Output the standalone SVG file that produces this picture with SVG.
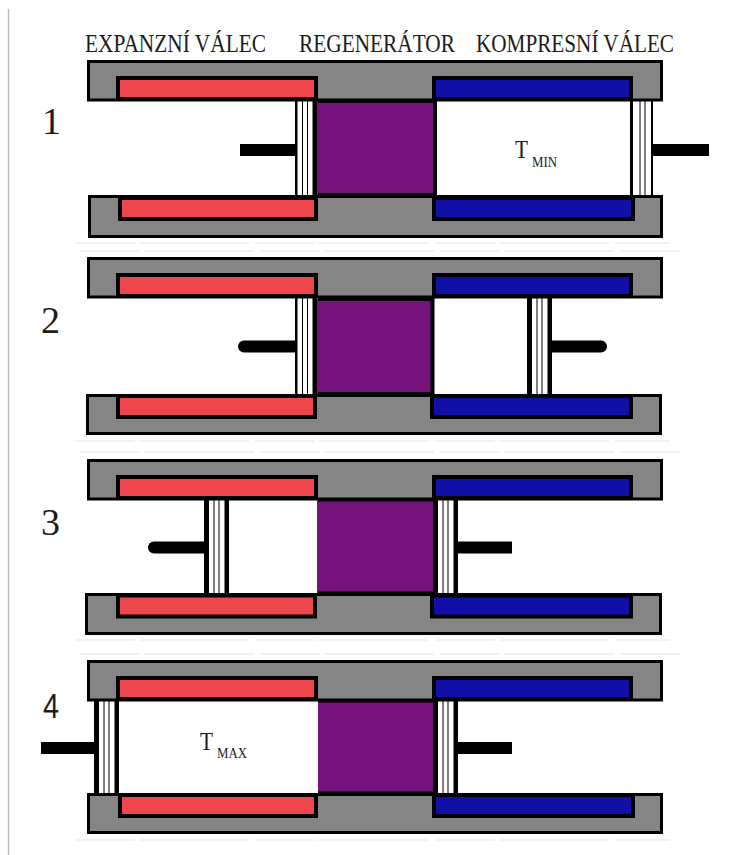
<svg xmlns="http://www.w3.org/2000/svg" width="740" height="855" viewBox="0 0 740 855">
<style>
text{font-family:"Liberation Serif",serif;fill:#1c1c1c}
.h{font-size:25px}
.n{font-size:38px}
.t{font-size:26px}
.s{font-size:15px}
.b{fill:#858585;stroke:#000;stroke-width:3}
.r{fill:#ee464c;stroke:#000;stroke-width:4}
.c{fill:#1010a8;stroke:#000;stroke-width:4}
.p{fill:#75127c}
.w{stroke:#000;stroke-width:4;fill:none}
.rod{stroke:#000;stroke-width:12;fill:none}
.k{fill:#000}
.i{fill:#fff}
.pl{stroke:#000;stroke-width:1;fill:none}
.res{stroke:#eeeeee;stroke-width:1.500;fill:none;stroke-dasharray:60 4 110 6}
</style>
<defs>
<g id="top">
<rect class="b" x="1.500" y="1.500" width="573" height="38.500"/>
<rect class="r" x="31" y="18" width="198" height="21"/>
<rect class="c" x="347" y="18" width="197" height="21"/>
</g>
<g id="pisA">
<rect class="k" width="25" height="96"/>
<rect class="i" x="5" width="15.500" height="96"/>
<path class="pl" d="M10 0V96M15 0V96"/>
</g>
<g id="pisB">
<rect class="k" width="22" height="96"/>
<rect class="i" x="2.500" width="15" height="96"/>
<path class="pl" d="M7.500 0V96M12.500 0V96"/>
</g>
<g id="pisC">
<rect class="k" width="23" height="96"/>
<rect class="i" x="3" width="18" height="96"/>
<path class="pl" d="M10 0V96M15 0V96"/>
</g>
</defs>
<path d="M8.500 9V855" stroke="#bbb" stroke-width="1.500" fill="none"/>
<path id="residue" class="res" d="M75 243H670M80 251H680M75 441H670M80 452H680M75 640H670M80 654H680M75 840H670"/>
<g id="headers">
<text class="h" x="85" y="52" textLength="181" lengthAdjust="spacingAndGlyphs">EXPANZNÍ VÁLEC</text>
<text class="h" x="299" y="52" textLength="156" lengthAdjust="spacingAndGlyphs">REGENERÁTOR</text>
<text class="h" x="476" y="52" textLength="198" lengthAdjust="spacingAndGlyphs">KOMPRESNÍ VÁLEC</text>
</g>
<g id="stage1">
<path class="rod" d="M240 150H296M653 150H709"/>
<use href="#pisB" x="295" y="100"/>
<use href="#pisC" x="630" y="100"/>
<use href="#top" x="87" y="60"/>
<rect class="b" x="89.500" y="196.500" width="572" height="40"/>
<rect class="r" x="120" y="198" width="196" height="21"/>
<rect class="c" x="434" y="198" width="199" height="21"/>
<rect class="p" x="317" y="101" width="116" height="94"/>
<path class="w" d="M318 101H435V195H318"/>
<text class="n" x="42" y="134">1</text>
<text class="t" x="515" y="158" textLength="13" lengthAdjust="spacingAndGlyphs">T</text>
<text class="s" x="532" y="167" textLength="25" lengthAdjust="spacingAndGlyphs">MIN</text>
</g>
<g id="stage2">
<path class="rod" stroke-linecap="round" d="M244 346.500H296M552 346.500H601"/>
<use href="#pisB" x="295" y="298"/>
<use href="#pisA" x="527" y="298"/>
<use href="#top" x="87" y="257"/>
<rect class="b" x="87.500" y="395.500" width="573" height="38"/>
<rect class="r" x="118" y="396" width="197" height="21"/>
<rect class="c" x="432" y="396" width="199" height="21"/>
<rect class="p" x="317" y="299" width="114" height="95"/>
<path class="w" d="M318 299H432.500V394H318"/>
<text class="n" x="41" y="333">2</text>
</g>
<g id="stage3">
<path class="rod" stroke-linecap="round" d="M154 547.500H205"/>
<path class="rod" d="M458 547.500H512"/>
<use href="#pisA" x="204" y="499"/>
<use href="#pisA" x="433" y="499"/>
<use href="#top" x="87" y="459"/>
<rect class="b" x="86.500" y="594.500" width="574" height="39"/>
<rect class="r" x="118" y="595.500" width="197" height="21"/>
<rect class="c" x="432" y="595.500" width="199" height="21"/>
<rect class="p" x="317" y="500" width="116" height="93"/>
<path class="w" style="stroke-width:3" d="M318 500H435V593H318"/>
<text class="n" x="41" y="535">3</text>
</g>
<g id="stage4">
<path class="rod" d="M41 748H96M458 748H512"/>
<use href="#pisA" x="94" y="700"/>
<use href="#pisA" x="433" y="700"/>
<use href="#top" x="87" y="660"/>
<rect class="b" x="88.500" y="794.500" width="573" height="38"/>
<rect class="r" x="120" y="795" width="196" height="21"/>
<rect class="c" x="434" y="795" width="199" height="21"/>
<rect class="p" x="318" y="701" width="115" height="92"/>
<path class="w" style="stroke-width:3" d="M318 701H435V793H318"/>
<text class="n" x="43" y="718" textLength="16" lengthAdjust="spacingAndGlyphs" style="font-family:'Liberation Sans',sans-serif;font-size:35px">4</text>
<text class="t" x="200" y="750" textLength="13" lengthAdjust="spacingAndGlyphs">T</text>
<text class="s" x="217" y="758" textLength="30" lengthAdjust="spacingAndGlyphs">MAX</text>
</g>
</svg>
